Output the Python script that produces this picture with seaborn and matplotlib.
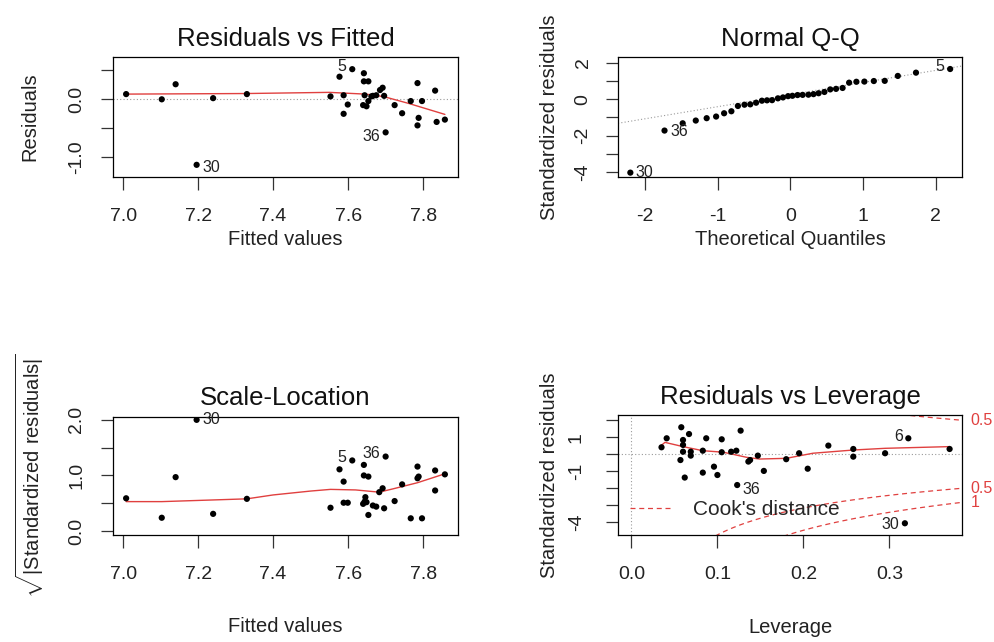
import numpy as np
import pandas as pd
import matplotlib
matplotlib.use("Agg")
import matplotlib.pyplot as plt
import matplotlib.transforms as mtransforms
from matplotlib.lines import Line2D
import seaborn as sns

# ---------------- data ----------------
# Panel 1: Residuals vs Fitted
fitted = [7.008, 7.103, 7.140, 7.196, 7.240, 7.330, 7.553, 7.577, 7.611, 7.588,
          7.588, 7.599, 7.642, 7.642, 7.654, 7.644, 7.640, 7.649, 7.654, 7.666,
          7.675, 7.685, 7.692, 7.696, 7.700, 7.724, 7.744, 7.767, 7.785, 7.788,
          7.785, 7.797, 7.832, 7.836, 7.858, 7.662]
residuals = [0.09, 0.00, 0.26, -1.13, 0.02, 0.09, 0.05, 0.39, 0.52, 0.07,
             -0.25, -0.09, 0.45, 0.31, 0.31, 0.07, -0.10, -0.12, -0.03, 0.06,
             0.07, 0.16, 0.20, 0.06, -0.57, -0.10, -0.24, -0.03, 0.28, -0.32,
             -0.45, -0.03, 0.15, -0.39, -0.35, 0.05]
rf_smooth_x = [7.008, 7.33, 7.55, 7.645, 7.672, 7.699, 7.761, 7.858]
rf_smooth_y = [0.09, 0.10, 0.12, 0.09, 0.07, 0.04, -0.07, -0.26]

# Panel 2: Normal Q-Q
theoretical_q = [-2.20, -1.73, -1.48, -1.30, -1.15, -1.02, -0.91, -0.81, -0.72, -0.63,
                 -0.55, -0.47, -0.39, -0.32, -0.25, -0.17, -0.10, -0.03,
                 0.03, 0.10, 0.17, 0.25, 0.32, 0.39, 0.47, 0.55, 0.63, 0.72,
                 0.81, 0.91, 1.02, 1.15, 1.30, 1.48, 1.73, 2.20]
sample_q = [-4.03, -1.72, -1.32, -1.17, -1.04, -0.95, -0.77, -0.66, -0.37, -0.30,
            -0.28, -0.19, -0.08, -0.06, -0.05, 0.05, 0.10, 0.17, 0.19, 0.23,
            0.24, 0.25, 0.28, 0.33, 0.40, 0.54, 0.57, 0.62, 0.91, 0.96,
            0.97, 1.00, 1.01, 1.28, 1.46, 1.66]
qq_line_x = [-2.37, 2.37]
qq_line_y = [-1.32, 1.83]

# Panel 3: Scale-Location
sl_fitted = [7.008, 7.103, 7.140, 7.196, 7.240, 7.330, 7.553, 7.577, 7.611, 7.588,
             7.588, 7.599, 7.642, 7.642, 7.654, 7.644, 7.646, 7.640, 7.654, 7.666,
             7.675, 7.683, 7.692, 7.696, 7.700, 7.724, 7.744, 7.767, 7.785, 7.788,
             7.785, 7.797, 7.832, 7.832, 7.858, 7.649]
sl_value = [0.59, 0.24, 0.97, 2.00, 0.31, 0.58, 0.42, 1.11, 1.27, 0.89,
            0.51, 0.51, 1.19, 1.00, 0.98, 0.53, 0.61, 0.49, 0.29, 0.46,
            0.44, 0.70, 0.77, 0.41, 1.34, 0.54, 0.84, 0.23, 1.16, 0.98,
            0.95, 0.23, 1.09, 0.73, 1.02, 0.52]
sl_smooth_x = [7.008, 7.103, 7.240, 7.330, 7.40, 7.50, 7.553, 7.62, 7.683, 7.72, 7.785, 7.858]
sl_smooth_y = [0.53, 0.53, 0.56, 0.58, 0.65, 0.72, 0.75, 0.74, 0.70, 0.76, 0.87, 1.03]

# Panel 4: Residuals vs Leverage
leverage = [0.035, 0.041, 0.058, 0.060, 0.060, 0.060, 0.057, 0.062, 0.067, 0.069,
            0.069, 0.083, 0.083, 0.087, 0.096, 0.100, 0.105, 0.105, 0.116, 0.122,
            0.127, 0.123, 0.136, 0.138, 0.147, 0.154, 0.180, 0.195, 0.205, 0.229,
            0.258, 0.258, 0.295, 0.322, 0.318, 0.370]
std_resid = [0.41, 0.94, 1.59, 0.84, 0.55, 0.15, -0.34, -1.37, 1.19, 0.15,
             -0.08, 0.21, -1.08, 0.94, -0.73, -1.22, 0.88, 0.12, 0.15, 0.21,
             1.39, -1.81, -0.43, -0.34, -0.08, -0.98, -0.29, 0.06, -0.85, 0.51,
             0.31, -0.14, 0.06, 0.94, -4.06, 0.31]
lev_smooth_x = [0.033, 0.039, 0.060, 0.083, 0.107, 0.134, 0.149, 0.180, 0.211, 0.258, 0.295, 0.370]
lev_smooth_y = [0.45, 0.70, 0.45, 0.21, 0.12, -0.18, -0.28, -0.24, 0.06, 0.25, 0.35, 0.45]
n_params = 5
cook_levels = [0.5, 1.0]

# ---------------- style ----------------
sns.set_theme(style="white")
plt.rcParams["font.family"] = ["Liberation Sans", "DejaVu Sans"]
plt.rcParams["axes.unicode_minus"] = False
plt.rcParams["mathtext.fontset"] = "custom"
plt.rcParams["mathtext.rm"] = "Liberation Sans"

RED = "#e0403f"
GRAY = "#9a9a9a"
TICK_FS = 14
LAB_FS = 14.5
TITLE_FS = 18.5
ID_FS = 11.5

W, H = 995, 642
fig = plt.figure(figsize=(W / 100, H / 100), dpi=100)


def px_axes(x0, y0, x1, y1):
    return fig.add_axes([x0 / W, 1 - y1 / H, (x1 - x0) / W, (y1 - y0) / H])


ax1 = px_axes(113, 57, 458, 177)
ax2 = px_axes(618, 57, 962.5, 177)
ax3 = px_axes(113, 416.5, 458, 535)
ax4 = px_axes(618, 415, 962.5, 535)


def style_axes(ax, title, xlabel, ylabel, xl_y, yl_x, ypad):
    for s in ax.spines.values():
        s.set_visible(True)
        s.set_color("black")
        s.set_linewidth(0.9)
    ax.tick_params(axis="both", direction="out", length=9, width=0.9,
                   color="#333333", labelsize=TICK_FS, labelcolor="#222222")
    ax.tick_params(axis="x", pad=13, bottom=True)
    ax.tick_params(axis="y", pad=ypad, left=True)
    for lab in ax.get_yticklabels():
        lab.set_rotation(90)
        lab.set_verticalalignment("center")
    ax.set_title(title, fontsize=TITLE_FS, pad=8, color="#111111")
    ax.set_xlabel(xlabel, fontsize=LAB_FS, color="#222222")
    ax.set_ylabel(ylabel, fontsize=LAB_FS, color="#222222")
    ax.xaxis.set_label_coords(0.5, xl_y)
    ax.xaxis.label.set_verticalalignment("center")
    ax.yaxis.set_label_coords(yl_x, 0.5)
    ax.yaxis.label.set_verticalalignment("center")


def id_label(ax, x, y, text, side, fs=ID_FS, dy=0):
    off = 4 if side == "right" else -4
    ax.annotate(text, (x, y), xytext=(off, dy), textcoords="offset points",
                ha="left" if side == "right" else "right", va="center",
                fontsize=fs, color="#222222")


pt_kw = dict(color="black", s=20, edgecolor="none", linewidth=0, zorder=3)

# ---- Panel 1 ----
df1 = pd.DataFrame({"fitted": fitted, "resid": residuals})
ax1.axhline(0, color=GRAY, lw=0.8, ls=(0, (1, 2)), zorder=1)
sns.scatterplot(data=df1, x="fitted", y="resid", ax=ax1, **pt_kw)
sns.lineplot(x=rf_smooth_x, y=rf_smooth_y, ax=ax1, color=RED, lw=1.0, sort=False,
             estimator=None, zorder=2)
ax1.set_xlim(6.973, 7.893)
ax1.set_ylim(-1.34, 0.73)
ax1.set_xticks([7.0, 7.2, 7.4, 7.6, 7.8], ["7.0", "7.2", "7.4", "7.6", "7.8"])
ax1.set_yticks([-1.0, -0.5, 0.0, 0.5], ["-1.0", "", "0.0", ""])
style_axes(ax1, "Residuals vs Fitted", "Fitted values", "Residuals", -0.52, -0.24, 11)
id_label(ax1, fitted[8], residuals[8], "5", "left", dy=2)
id_label(ax1, fitted[24], residuals[24], "36", "left", dy=-3)
id_label(ax1, fitted[3], residuals[3], "30", "right", dy=-2)

# ---- Panel 2 ----
df2 = pd.DataFrame({"theo": theoretical_q, "sample": sample_q})
sns.lineplot(x=qq_line_x, y=qq_line_y, ax=ax2, color=GRAY, lw=0.8,
             linestyle=(0, (1, 2)), estimator=None, sort=False, zorder=1)
sns.scatterplot(data=df2, x="theo", y="sample", ax=ax2, **pt_kw)
ax2.set_xlim(-2.37, 2.37)
ax2.set_ylim(-4.27, 2.32)
ax2.set_xticks([-2, -1, 0, 1, 2], ["-2", "-1", "0", "1", "2"])
ax2.set_yticks([-4, -3, -2, -1, 0, 1, 2], ["-4", "", "-2", "", "0", "", "2"])
style_axes(ax2, "Normal Q-Q", "Theoretical Quantiles", "Standardized residuals", -0.52, -0.2, 10)
id_label(ax2, theoretical_q[-1], sample_q[-1], "5", "left", dy=2)
id_label(ax2, theoretical_q[1], sample_q[1], "36", "right", dy=-1)
id_label(ax2, theoretical_q[0], sample_q[0], "30", "right")

# ---- Panel 3 ----
df3 = pd.DataFrame({"fitted": sl_fitted, "value": sl_value})
sns.scatterplot(data=df3, x="fitted", y="value", ax=ax3, **pt_kw)
sns.lineplot(x=sl_smooth_x, y=sl_smooth_y, ax=ax3, color=RED, lw=1.0, sort=False,
             estimator=None, zorder=2)
ax3.set_xlim(6.973, 7.893)
ax3.set_ylim(-0.07, 2.06)
ax3.set_xticks([7.0, 7.2, 7.4, 7.6, 7.8], ["7.0", "7.2", "7.4", "7.6", "7.8"])
ax3.set_yticks([0.0, 0.5, 1.0, 1.5, 2.0], ["0.0", "", "1.0", "", "2.0"])
style_axes(ax3, "Scale-Location", "Fitted values",
           r"$\sqrt{|\mathrm{Standardized\ residuals}|}$", -0.77, -0.24, 11)
id_label(ax3, sl_fitted[3], sl_value[3], "30", "right")
id_label(ax3, sl_fitted[8], sl_value[8], "5", "left", dy=2)
id_label(ax3, sl_fitted[24], sl_value[24], "36", "left", dy=2)

# ---- Panel 4 ----
df4 = pd.DataFrame({"lev": leverage, "std": std_resid})
ax4.axhline(0, color=GRAY, lw=0.8, ls=(0, (1, 2)), zorder=1)
ax4.axvline(0, color=GRAY, lw=0.8, ls=(0, (1, 2)), zorder=1)
sns.scatterplot(data=df4, x="lev", y="std", ax=ax4, **pt_kw)
sns.lineplot(x=lev_smooth_x, y=lev_smooth_y, ax=ax4, color=RED, lw=1.0, sort=False,
             estimator=None, zorder=2)
xlo, xhi = -0.0156, 0.385
ylo, yhi = -4.75, 2.31
hh = np.linspace(0.01, xhi, 101)
trans = mtransforms.blended_transform_factory(ax4.transAxes, ax4.transData)
for D in cook_levels:
    r = np.sqrt(D * n_params * (1 - hh) / hh)
    for sgn in (1, -1):
        sns.lineplot(x=hh, y=sgn * r, ax=ax4, color=RED, lw=0.9, linestyle=(0, (4, 3)),
                     sort=False, estimator=None, zorder=2)
        yend = sgn * np.sqrt(D * n_params * (1 - xhi) / xhi)
        if ylo < yend < yhi:
            ax4.annotate(f"{D:g}", (1.0, yend), xycoords=trans, xytext=(6, 0),
                         textcoords="offset points", ha="left", va="center",
                         fontsize=ID_FS, color=RED, annotation_clip=False)
ax4.set_xlim(xlo, xhi)
ax4.set_ylim(ylo, yhi)
ax4.set_xticks([0.0, 0.1, 0.2, 0.3], ["0.0", "0.1", "0.2", "0.3"])
ax4.set_yticks([-4, -3, -2, -1, 0, 1, 2], ["-4", "", "", "-1", "", "1", ""])
style_axes(ax4, "Residuals vs Leverage", "Leverage", "Standardized residuals", -0.77, -0.2, 15)
id_label(ax4, leverage[21], std_resid[21], "36", "right", dy=-3)
id_label(ax4, leverage[33], std_resid[33], "6", "left", dy=1)
id_label(ax4, leverage[34], std_resid[34], "30", "left", dy=-1)
leg = ax4.legend(handles=[Line2D([0], [0], color=RED, lw=0.9, linestyle=(0, (4, 3)))],
                 labels=["Cook's distance"], loc="center left",
                 bbox_to_anchor=(0.0, 0.21), frameon=False, fontsize=15,
                 handlelength=1.9, handletextpad=1.1, borderaxespad=0.2)

fig.savefig("out.png", dpi=100)
